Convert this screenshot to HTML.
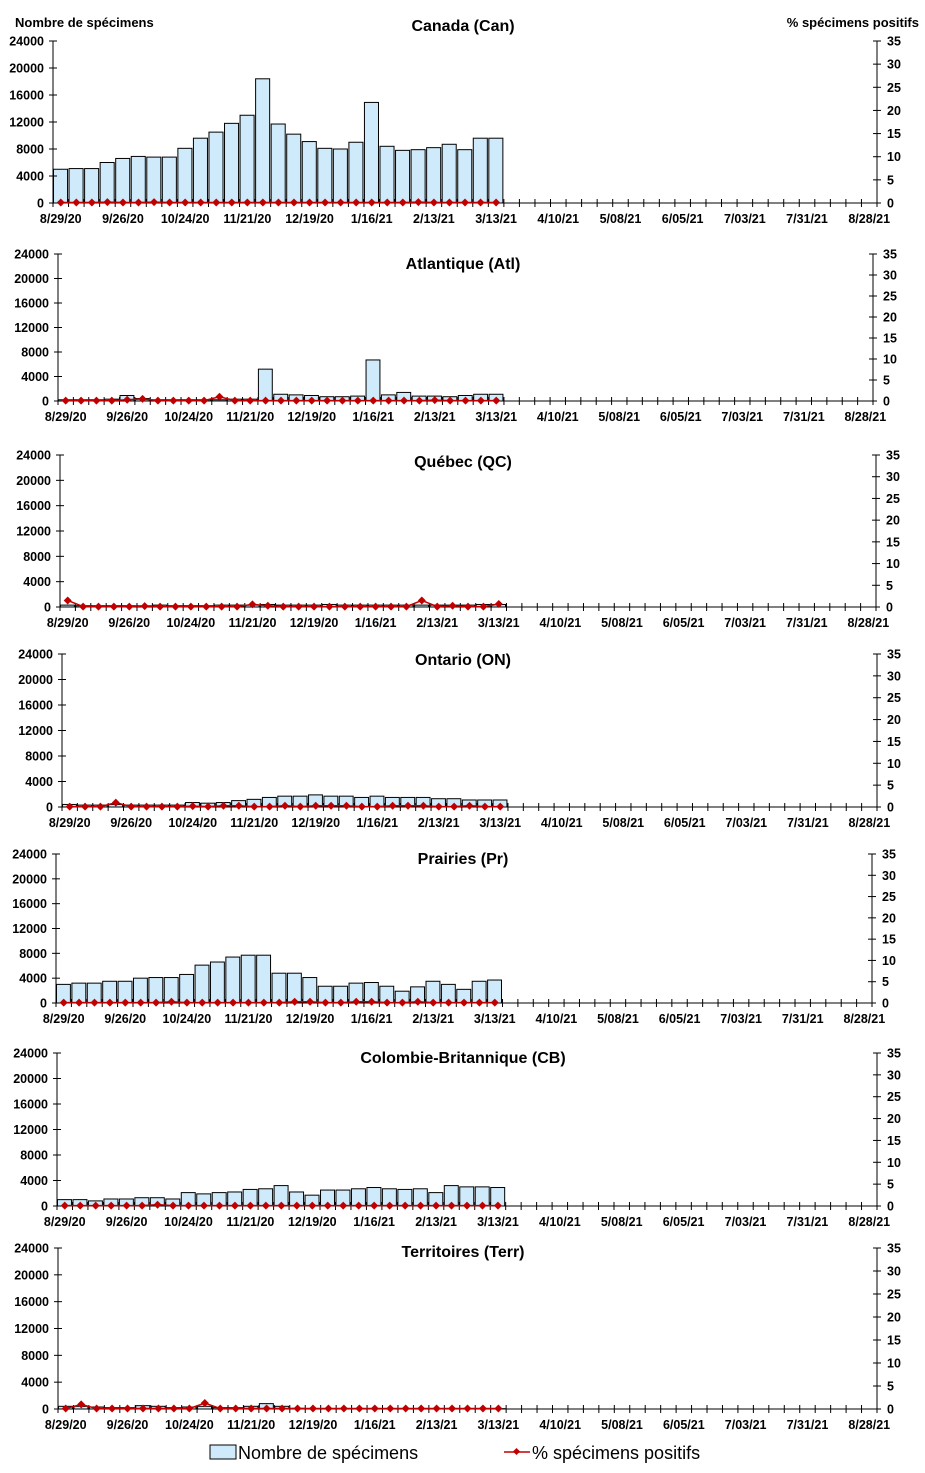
<!DOCTYPE html>
<html><head><meta charset="utf-8"><style>
html,body{margin:0;padding:0;background:#fff;}
svg{display:block;font-family:"Liberation Sans",Arial,sans-serif;}
</style></head><body>
<svg id="chart" width="925" height="1473" viewBox="0 0 925 1473" xmlns="http://www.w3.org/2000/svg">
<text x="15" y="27" font-size="13" font-weight="bold">Nombre de spécimens</text>
<text x="919" y="27" font-size="13" font-weight="bold" text-anchor="end">% spécimens positifs</text>
<g>
<rect x="210" y="1445" width="26" height="14" fill="#cfeafa" stroke="#000" stroke-width="1"/>
<text x="238" y="1459" font-size="18">Nombre de spécimens</text>
<line x1="504" y1="1452" x2="530" y2="1452" stroke="#c00000" stroke-width="1.5"/>
<rect x="514" y="1449" width="5" height="5" fill="#c00000" transform="rotate(45 516.5 1451.5)"/>
<text x="532" y="1459" font-size="18">% spécimens positifs</text>
</g>
</svg>
<script>
const weekLabels = ["8/29/20","9/26/20","10/24/20","11/21/20","12/19/20","1/16/21","2/13/21","3/13/21","4/10/21","5/08/21","6/05/21","7/03/21","7/31/21","8/28/21"];
const countTicks = [0,4000,8000,12000,16000,20000,24000];
const pctTicks = [0,5,10,15,20,25,30,35];
const nWeeks = 53;

const canCounts = [5000,5100,5100,6000,6600,6900,6800,6800,8100,9600,10500,11800,13000,18400,11700,10200,9100,8100,8000,9000,14900,8400,7800,7900,8200,8700,7900,9600,9600];
const canPct = [0.1,0.1,0.1,0.2,0.1,0.1,0.2,0.1,0.1,0.1,0.1,0.1,0.1,0.1,0.1,0.1,0.1,0.1,0.1,0.1,0.1,0.1,0.1,0.2,0.1,0.1,0.1,0.1,0.1];
const atlCounts = [200,200,200,300,900,400,200,200,200,200,200,300,300,5200,1100,1000,900,700,700,800,6700,1000,1400,800,800,700,900,1100,1100];
const atlPct = [0.1,0.1,0.1,0.1,0.3,0.5,0.1,0.1,0.1,0.1,1.0,0.1,0.1,0.1,0.1,0.1,0.1,0.1,0.1,0.1,0.1,0.1,0.1,0.1,0.2,0.1,0.1,0.1,0.1];
const qcCounts = [300,200,200,200,200,200,300,200,200,200,300,300,300,400,300,300,300,400,300,300,300,300,300,300,300,300,300,400,400];
const qcPct = [1.5,0.1,0.1,0.1,0.1,0.2,0.1,0.1,0.1,0.1,0.1,0.1,0.6,0.3,0.1,0.1,0.1,0.1,0.1,0.1,0.1,0.1,0.1,1.5,0.1,0.3,0.1,0.1,0.7];
const onCounts = [400,300,300,400,300,300,300,300,700,600,700,1000,1200,1500,1700,1700,1900,1700,1700,1500,1700,1500,1500,1500,1300,1300,1100,1100,1100];
const onPct = [0.1,0.1,0.1,1.0,0.1,0.1,0.1,0.1,0.2,0.1,0.3,0.3,0.1,0.1,0.3,0.1,0.3,0.3,0.3,0.1,0.1,0.3,0.3,0.3,0.1,0.1,0.3,0.1,0.1];
const prCounts = [3000,3200,3200,3500,3500,4000,4100,4100,4600,6100,6600,7400,7700,7700,4800,4800,4100,2700,2700,3200,3300,2700,1900,2600,3500,3000,2200,3500,3700];
const prPct = [0.1,0.1,0.1,0.1,0.1,0.1,0.1,0.3,0.1,0.1,0.1,0.1,0.1,0.1,0.1,0.3,0.3,0.1,0.1,0.3,0.3,0.1,0.1,0.3,0.1,0.1,0.1,0.1,0.1];
const cbCounts = [1000,1000,800,1100,1100,1300,1300,1100,2100,1900,2100,2200,2600,2700,3200,2200,1700,2500,2500,2700,2900,2700,2600,2700,2100,3200,3000,3000,2900];
const cbPct = [0.1,0.1,0.1,0.1,0.1,0.1,0.3,0.1,0.1,0.1,0.1,0.1,0.1,0.1,0.1,0.1,0.1,0.1,0.1,0.1,0.1,0.1,0.1,0.1,0.1,0.1,0.1,0.1,0.1];
const terrCounts = [400,400,300,200,200,500,400,200,300,400,200,200,400,800,400,100,50,50,50,50,50,50,50,50,50,50,50,50,50];
const terrPct = [0.1,1.0,0.1,0.1,0.1,0.1,0.1,0.1,0.1,1.3,0.1,0.1,0.1,0.1,0.1,0.1,0.1,0.1,0.1,0.1,0.1,0.1,0.1,0.1,0.1,0.1,0.1,0.1,0.1];

const panels = [
 {name:"canada", title:"Canada (Can)", counts:canCounts, pct:canPct, l:53, r:877, t:41, b:203, ty:31},
 {name:"atlantique", title:"Atlantique (Atl)", counts:atlCounts, pct:atlPct, l:58, r:873, t:254, b:401, ty:269},
 {name:"quebec", title:"Québec (QC)", counts:qcCounts, pct:qcPct, l:60, r:876, t:455, b:607, ty:467},
 {name:"ontario", title:"Ontario (ON)", counts:onCounts, pct:onPct, l:62, r:877, t:654, b:807, ty:665},
 {name:"prairies", title:"Prairies (Pr)", counts:prCounts, pct:prPct, l:56, r:872, t:854, b:1003, ty:864},
 {name:"colombie-britannique", title:"Colombie-Britannique (CB)", counts:cbCounts, pct:cbPct, l:57, r:877, t:1053, b:1206, ty:1063},
 {name:"territoires", title:"Territoires (Terr)", counts:terrCounts, pct:terrPct, l:58, r:877, t:1248, b:1409, ty:1257}
];
const NS = "http://www.w3.org/2000/svg";
const svg = document.getElementById('chart');
function mk(tag, attrs, parent){ const e=document.createElementNS(NS,tag); for(const k in attrs) e.setAttribute(k,attrs[k]); parent.appendChild(e); return e; }

panels.forEach(p=>{
  const g = mk('g',{},svg);
  
  
  const cw = (p.r-p.l)/nWeeks;
  const x = i => p.l + i*cw;
  const yC = v => p.b - v/24000*(p.b-p.t);
  const yP = v => p.b - v/35*(p.b-p.t);
  const tt = mk('text',{x:463,y:p.ty,'font-size':16,'font-weight':'bold','text-anchor':'middle'},g);
  tt.textContent = p.title;
  
  
  p.counts.forEach((v,i)=>{
    const r = mk('rect',{x:x(i)+0.5,y:yC(v),width:cw-1.5,height:Math.max(0,p.b-yC(v)),fill:'#cfeafa',stroke:'#000','stroke-width':1},g);
    
    
  });
  const ax = mk('path',{d:`M${p.l},${p.t}V${p.b}H${p.r}V${p.t}`,fill:'none',stroke:'#000','stroke-width':1},g);
  
  
  countTicks.forEach(v=>{
    mk('line',{x1:p.l-4,x2:p.l+4,y1:yC(v),y2:yC(v),stroke:'#000'},g);
    const t = mk('text',{x:p.l-9,y:yC(v)+4.5,'font-size':12.5,'font-weight':'bold','text-anchor':'end'},g);
    t.textContent = v;
    
    
  });
  pctTicks.forEach(v=>{
    mk('line',{x1:p.r-4,x2:p.r+4,y1:yP(v),y2:yP(v),stroke:'#000'},g);
    const t = mk('text',{x:p.r+10,y:yP(v)+4.5,'font-size':12.5,'font-weight':'bold'},g);
    t.textContent = v;
    
    
  });
  for(let i=0;i<=nWeeks;i++) mk('line',{x1:x(i),x2:x(i),y1:p.b-4,y2:p.b+4,stroke:'#000'},g);
  weekLabels.forEach((lab,k)=>{
    const t = mk('text',{x:x(k*4+0.5),y:p.b+20,'font-size':12.5,'font-weight':'bold','text-anchor':'middle'},g);
    t.textContent = lab;
    
    
  });
  const pts = p.pct.map((v,i)=>`${x(i+0.5)},${yP(v)}`).join(' ');
  const pl = mk('polyline',{points:pts,fill:'none',stroke:'#c00000','stroke-width':1.5},g);
  
  
  p.pct.forEach((v,i)=>{
    const cx=x(i+0.5), cy=yP(v);
    const m = mk('path',{d:`M${cx},${cy-4}L${cx+4},${cy}L${cx},${cy+4}L${cx-4},${cy}Z`,fill:'#c00000'},g);
    
    
  });
});
</script>
</body></html>
